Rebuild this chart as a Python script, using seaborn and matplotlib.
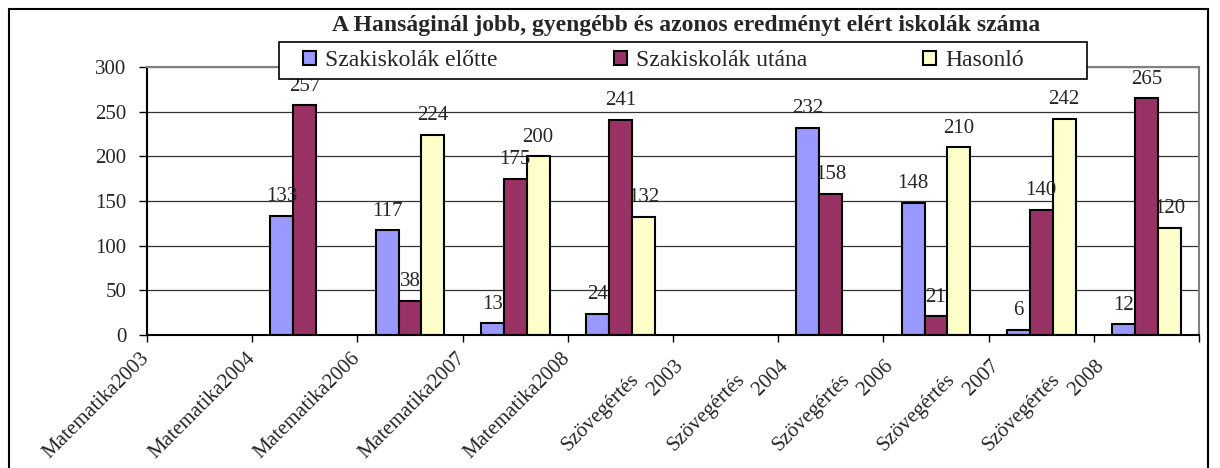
import numpy as np
import pandas as pd
import matplotlib
matplotlib.use("Agg")
import matplotlib.pyplot as plt
from matplotlib.patches import Rectangle
import seaborn as sns

# ---------------- data ----------------
categories = ["Matematika2003", "Matematika2004", "Matematika2006", "Matematika2007",
              "Matematika2008", "Szövegértés 2003", "Szövegértés 2004", "Szövegértés 2006",
              "Szövegértés 2007", "Szövegértés 2008"]
series = ["Szakiskolák előtte", "Szakiskolák utána", "Hasonló"]
elotte = [np.nan, 133, 117, 13, 24, np.nan, 232, 148, 6, 12]
utana = [np.nan, 257, 38, 175, 241, np.nan, 158, 21, 140, 265]
hasonlo = [np.nan, np.nan, 224, 200, 132, np.nan, np.nan, 210, 242, 120]
yticks = [0, 50, 100, 150, 200, 250, 300]
title = "A Hanságinál jobb, gyengébb és azonos eredményt elért iskolák száma"
colors = ["#9999FF", "#993366", "#FFFFCC"]

# ---------------- style ----------------
sns.set_theme(style="white")
plt.rcParams["font.family"] = ["Liberation Serif", "DejaVu Serif"]

rows = []
for s, vals in zip(series, [elotte, utana, hasonlo]):
    for c, v in zip(categories, vals):
        rows.append({"Kategória": c, "Sorozat": s, "Érték": v})
df = pd.DataFrame(rows).dropna()

W, H = 1220, 468
fig = plt.figure(figsize=(W / 100, H / 100), dpi=100)
ax = fig.add_axes([147 / W, 1 - 335 / H, (1199 - 147) / W, (335 - 67) / H])

sns.barplot(data=df, x="Kategória", y="Érték", hue="Sorozat", order=categories,
            hue_order=series, palette=colors, saturation=1, width=0.655,
            edgecolor="black", linewidth=1.5, errorbar=None, ax=ax)

ax.set_axisbelow(True)
ax.set_ylim(0, 300)
ax.set_xlim(-0.5, len(categories) - 0.5)
ax.set_yticks(yticks)
ax.set_yticklabels([str(t) for t in yticks], fontsize=15)
ax.yaxis.grid(True, color="#333333", lw=0.9)
ax.xaxis.grid(False)
ax.set_xlabel("")
ax.set_ylabel("")

# data labels
for cont in ax.containers:
    ax.bar_label(cont, fmt="{:.0f}", padding=7, fontsize=15)

# x tick labels at category boundaries
def disp(c):
    if " " in c:
        a, b = c.split(" ")
        return a + "\n" + " " * 19 + b
    return c

ax.set_xticks(np.arange(len(categories) + 1) - 0.5)
ax.set_xticklabels([disp(c) for c in categories] + [""], fontsize=15)
for lab in ax.get_xticklabels():
    lab.set_rotation(45)
    lab.set_ha("right")
    lab.set_va("center")
    lab.set_rotation_mode("anchor")
    lab.set_multialignment("left")

ax.tick_params(axis="x", bottom=True, length=5, width=1, pad=10, color="black")
ax.tick_params(axis="y", left=True, length=6, width=1, pad=9, color="black")

for s in ["left", "bottom"]:
    ax.spines[s].set_color("black")
    ax.spines[s].set_linewidth(1.5)
for s in ["top", "right"]:
    ax.spines[s].set_color("#808080")
    ax.spines[s].set_linewidth(1.5)

# legend (box drawn separately, entries placed inside)
handles, labels = ax.get_legend_handles_labels()
if ax.get_legend() is not None:
    ax.get_legend().remove()
fig.patches.append(Rectangle((279 / W, 1 - 79 / H), (1087 - 279) / W, 37 / H,
                             transform=fig.transFigure, facecolor="white",
                             edgecolor="black", linewidth=1.2, zorder=3))
leg = fig.legend(handles, labels, loc="center left",
                 bbox_to_anchor=(303 / W, 1 - 61 / H),
                 bbox_transform=fig.transFigure, ncol=3, frameon=False,
                 fontsize=17, handlelength=0.55, handleheight=0.55,
                 handletextpad=0.4, borderpad=0, borderaxespad=0,
                 columnspacing=4.9)
leg.set_zorder(4)
for h in leg.legend_handles:
    h.set_edgecolor("black")
    h.set_linewidth(1.5)

# title
fig.text(686 / W, 1 - 25 / H, title, ha="center", va="center",
         fontsize=17, fontweight="bold")

# outer chart frame
fig.patches.append(Rectangle((9 / W, -0.1), (1208 - 9) / W, 1 - 9 / H + 0.1,
                             transform=fig.transFigure, fill=False,
                             edgecolor="black", linewidth=1.5))

fig.savefig("out.png", dpi=100)
